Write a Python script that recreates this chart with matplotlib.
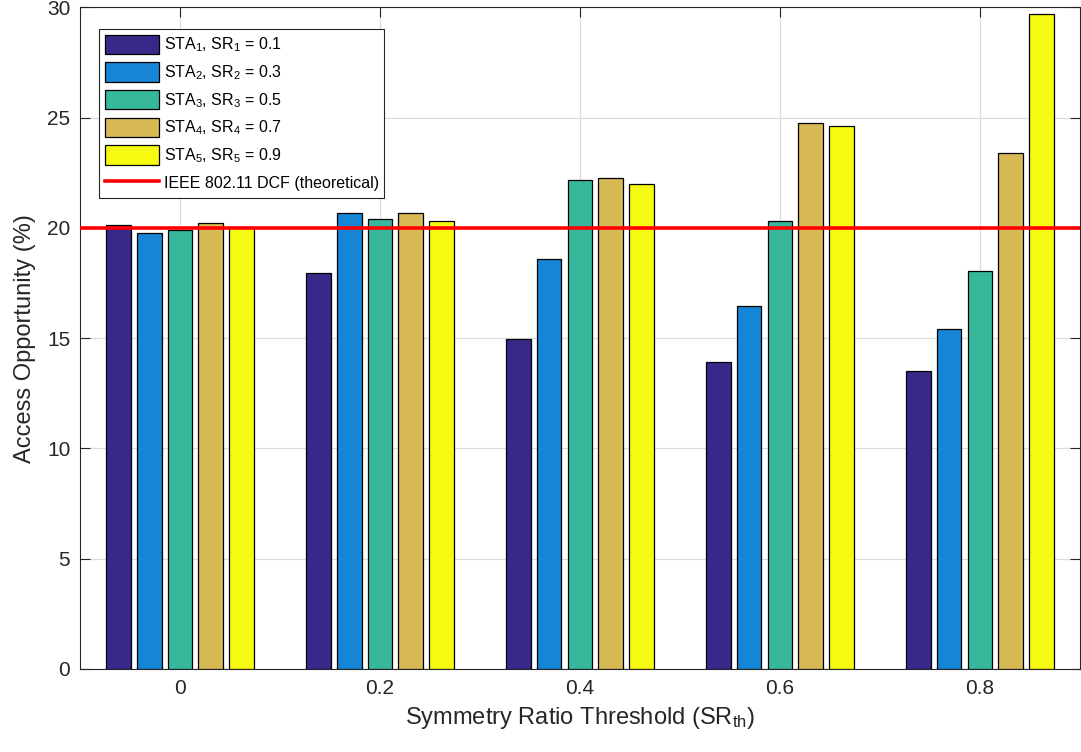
import numpy as np
import matplotlib
matplotlib.use("Agg")
import matplotlib.pyplot as plt

plt.rcParams["font.family"] = ["Liberation Sans", "DejaVu Sans"]
plt.rcParams["mathtext.default"] = "regular"

# ------------------------------------------------------------
# DATA
# ------------------------------------------------------------
thresholds = ["0", "0.2", "0.4", "0.6", "0.8"]

sta1 = [20.14, 17.93, 14.98, 13.92, 13.53]
sta2 = [19.76, 20.68, 18.59, 16.45, 15.43]
sta3 = [19.91, 20.42, 22.18, 20.30, 18.02]
sta4 = [20.24, 20.67, 22.27, 24.73, 23.37]
sta5 = [20.05, 20.32, 21.98, 24.63, 29.67]

series = [sta1, sta2, sta3, sta4, sta5]
labels = [
    "STA$_1$, SR$_1$ = 0.1",
    "STA$_2$, SR$_2$ = 0.3",
    "STA$_3$, SR$_3$ = 0.5",
    "STA$_4$, SR$_4$ = 0.7",
    "STA$_5$, SR$_5$ = 0.9",
]
dcf_value = 20.0

COLORS = ["#37298a", "#1785d6", "#37b89d", "#d7b955", "#f6f910"]

# ------------------------------------------------------------
# PLOT
# ------------------------------------------------------------
fig = plt.figure(figsize=(10.81, 7.52), dpi=100)
ax = fig.add_axes([0.074, 0.1104, 0.925, 0.880])

x = np.arange(1, len(thresholds) + 1)
n = len(series)
group_w = min(0.8, n / (n + 1.5))
step = group_w / n
bar_w = 0.8 * step

handles = []
for i, (vals, lab, col) in enumerate(zip(series, labels, COLORS)):
    offs = (i - (n - 1) / 2) * step
    b = ax.bar(x + offs, vals, width=bar_w, color=col, edgecolor="black",
               linewidth=0.9, label=lab, zorder=3)
    handles.append(b)

line = ax.axhline(dcf_value, color="red", linewidth=2.6, zorder=4,
                  label="IEEE 802.11 DCF (theoretical)")
handles.append(line)

ax.set_xlim(0.5, 5.5)
ax.set_ylim(0, 30)
ax.set_xticks(x)
ax.set_xticklabels(thresholds)
ax.set_yticks(np.arange(0, 31, 5))

ax.grid(True, color="#dcdcdc", linewidth=0.9, zorder=0)
ax.set_axisbelow(True)
ax.tick_params(direction="in", top=True, right=True, length=7, width=0.8,
               labelsize=15, colors="#262626", pad=7)
for s in ax.spines.values():
    s.set_color("#262626")
    s.set_linewidth(0.8)

ax.set_xlabel("Symmetry Ratio Threshold (SR$_{th}$)", fontsize=17, color="#262626", labelpad=5)
ax.set_ylabel("Access Opportunity (%)", fontsize=17, color="#262626", labelpad=8)

leg = ax.legend(handles=handles, labels=labels + ["IEEE 802.11 DCF (theoretical)"],
                loc="upper left", bbox_to_anchor=(99 / 1081, 1 - 29 / 752),
                bbox_transform=fig.transFigure, borderaxespad=0, fontsize=11.5,
                fancybox=False, framealpha=1, edgecolor="#262626",
                handlelength=3.4, handleheight=1.5, labelspacing=0.5,
                handletextpad=0.3, borderpad=0.35)
leg.get_frame().set_linewidth(0.8)

fig.savefig("out.png", dpi=100)
